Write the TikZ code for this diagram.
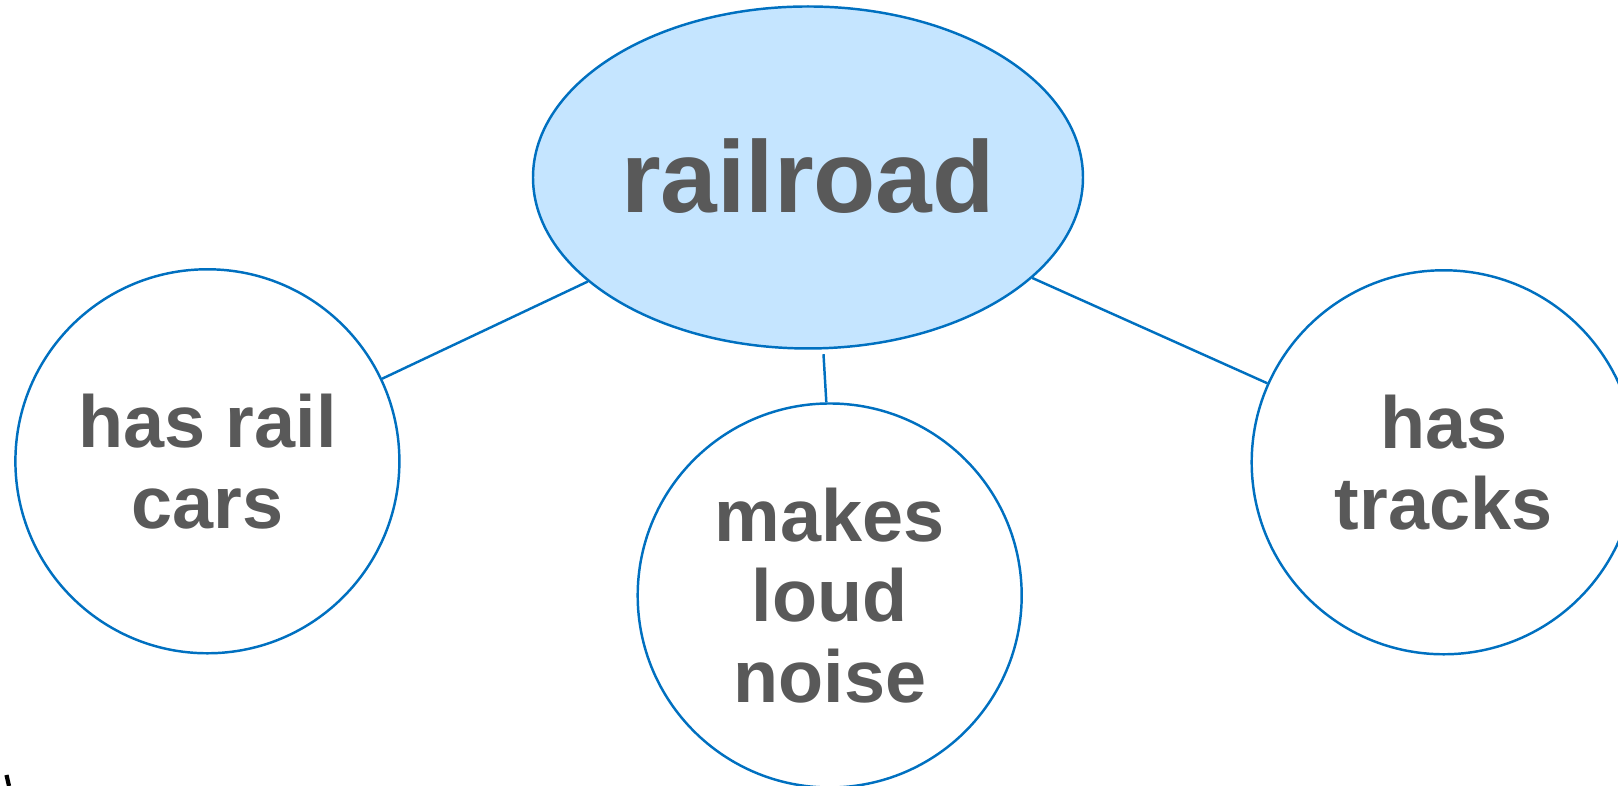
\documentclass[tikz,border=0pt]{standalone}
\usepackage{fontspec}
\setmainfont{Liberation Sans}
\usepackage{xcolor}
\definecolor{mapblue}{RGB}{0,112,192}
\definecolor{mapfill}{RGB}{197,229,255}
\definecolor{mapgray}{RGB}{89,89,89}
\usetikzlibrary{shapes.geometric}

\begin{document}
\begin{tikzpicture}[
    topic/.style={ellipse, draw=mapblue, fill=mapfill, line width=0.7pt,
      minimum width=5.5cm, minimum height=3.42cm, inner sep=0pt,
      font=\fontsize{29}{32}\selectfont\bfseries, text=mapgray},
    fact/.style={circle, draw=mapblue, line width=0.7pt, minimum size=3.84cm,
      inner sep=0pt, align=center,
      font=\fontsize{21}{23}\selectfont\bfseries, text=mapgray},
    link/.style={mapblue, line width=0.7pt}]
  \useasboundingbox (0,0) rectangle (16.18,7.86);
  \clip (0,0) rectangle (16.18,7.86);

  % Main topic
  \node[topic] (rail) at (8.08,6.085) {\raisebox{0.04cm}{railroad}};

  % Facts round it
  \node[fact] (cars) at (2.074,3.247) {has rail\\cars};
  \node[fact] (noise) at (8.297,1.905) {makes\\loud\\noise};
  \node[fact] (tracks) at (14.437,3.237) {has\\tracks};

  % Links
  \draw[link] (cars) -- (rail);
  \draw[link] (noise.91) -- ([xshift=0.155cm,yshift=-0.045cm]rail.south);
  \draw[link] (tracks) -- (rail);

  % Mark in the corner
  \draw[line width=1.2pt] (0.065,0.11) -- (0.09,0);
\end{tikzpicture}
\end{document}
